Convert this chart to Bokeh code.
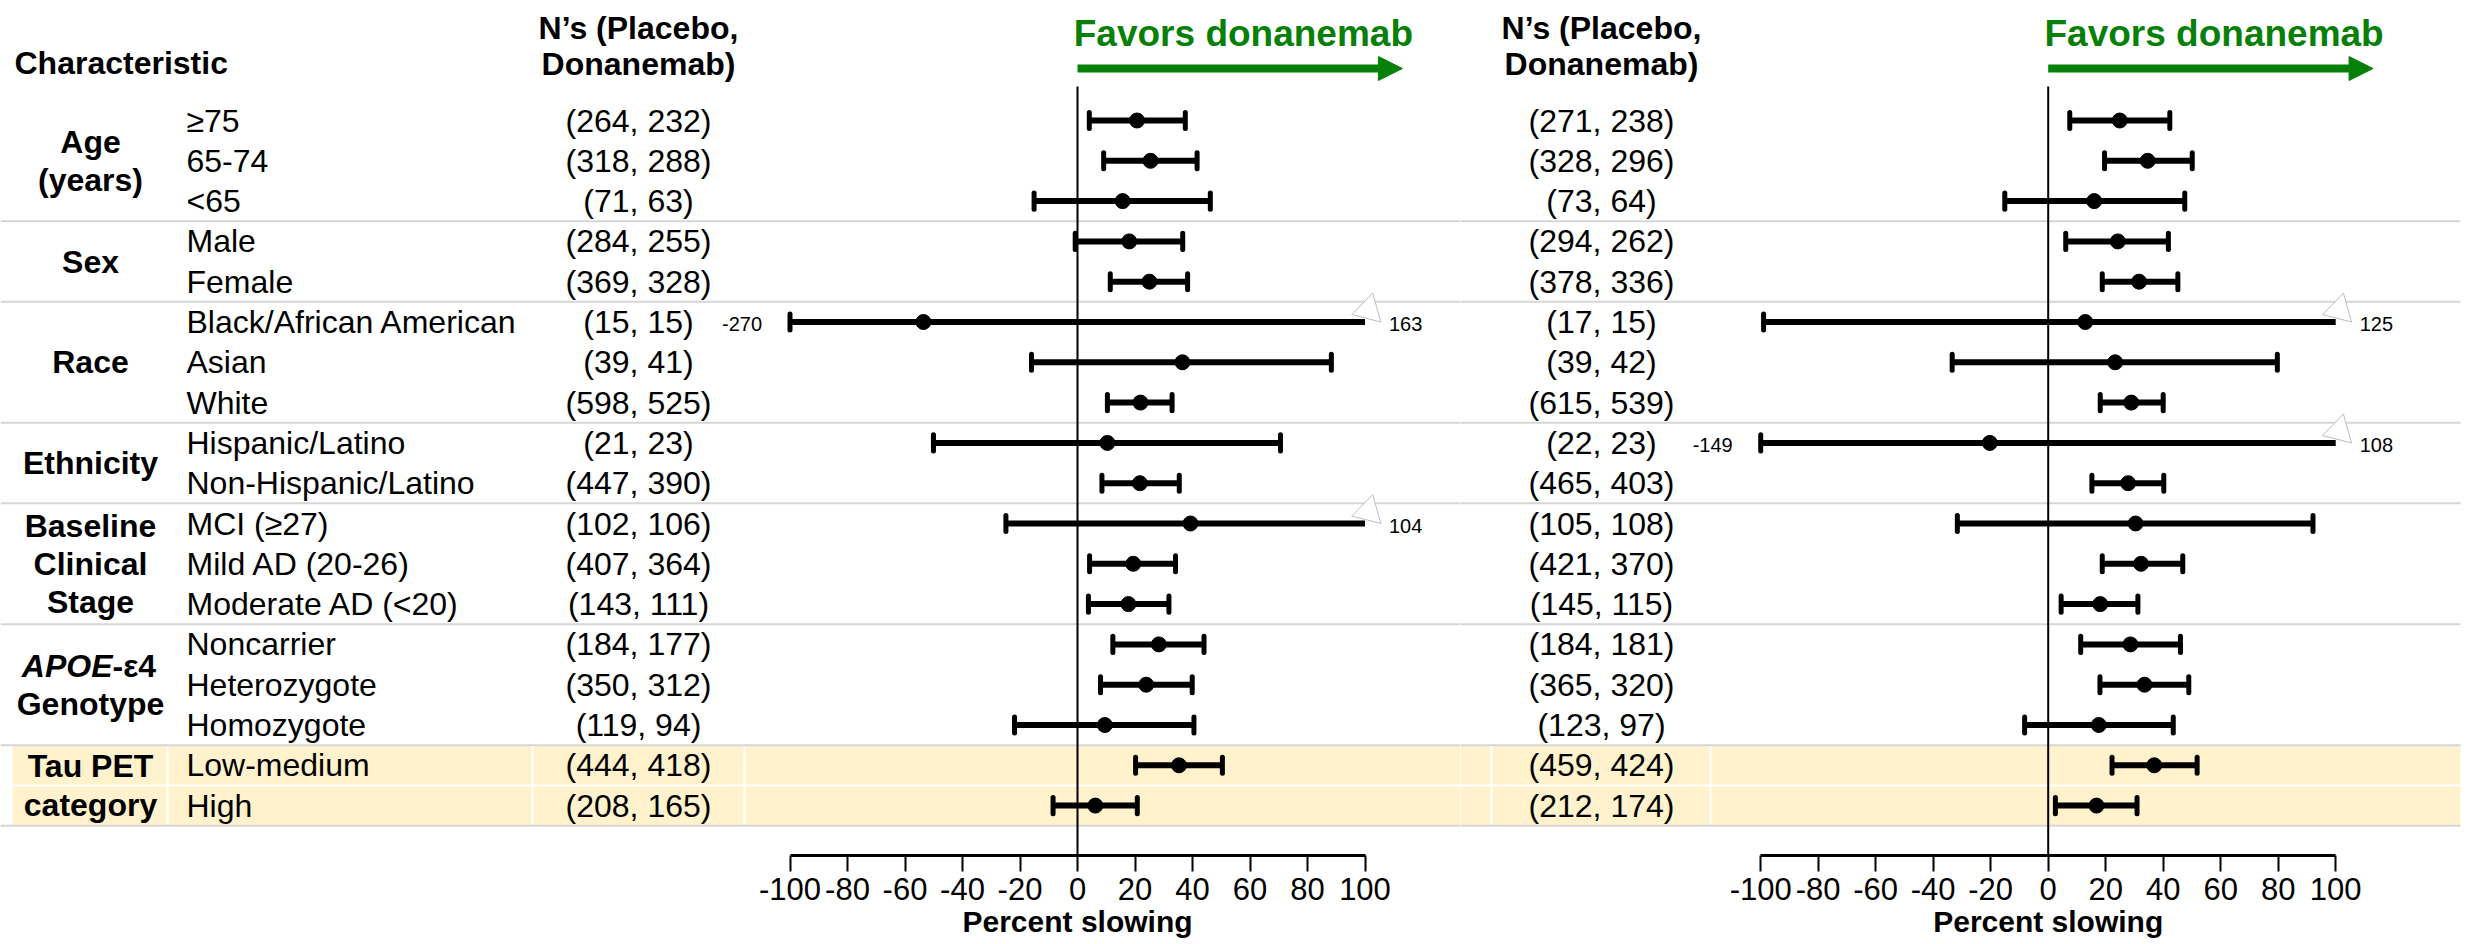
import numpy as np
from bokeh.plotting import figure
from bokeh.models import Range1d, LinearAxis, FixedTicker, Arrow, NormalHead, Title
from bokeh.layouts import row
from bokeh.core.properties import value
from bokeh.embed import file_html
from bokeh.resources import INLINE

# ---------------- data ----------------
group_lines = [["Age", "(years)"], ["Sex"], ["Race"], ["Ethnicity"],
               ["Baseline", "Clinical", "Stage"], ["APOE-ε4", "Genotype"],
               ["Tau PET", "category"]]
group_sizes = [3, 2, 3, 2, 3, 3, 2]

subgroups = ["≥75", "65-74", "<65", "Male", "Female",
             "Black/African American", "Asian", "White",
             "Hispanic/Latino", "Non-Hispanic/Latino",
             "MCI (≥27)", "Mild AD (20-26)", "Moderate AD (<20)",
             "Noncarrier", "Heterozygote", "Homozygote",
             "Low-medium", "High"]

n_left = ["(264, 232)", "(318, 288)", "(71, 63)", "(284, 255)", "(369, 328)",
          "(15, 15)", "(39, 41)", "(598, 525)", "(21, 23)", "(447, 390)",
          "(102, 106)", "(407, 364)", "(143, 111)", "(184, 177)", "(350, 312)",
          "(119, 94)", "(444, 418)", "(208, 165)"]
n_right = ["(271, 238)", "(328, 296)", "(73, 64)", "(294, 262)", "(378, 336)",
           "(17, 15)", "(39, 42)", "(615, 539)", "(22, 23)", "(465, 403)",
           "(105, 108)", "(421, 370)", "(145, 115)", "(184, 181)", "(365, 320)",
           "(123, 97)", "(459, 424)", "(212, 174)"]

# percent slowing: estimate, lower and upper confidence limits
est_left = [20.7, 25.4, 15.7, 18.0, 25.0, -53.6, 36.5, 21.9, 10.4, 21.7,
            39.3, 19.4, 17.7, 28.3, 23.9, 9.5, 35.3, 6.2]
lo_left = [4.1, 9.1, -15.1, -0.8, 11.4, -270, -16.0, 10.4, -50.1, 8.5,
           -24.9, 4.2, 3.8, 12.3, 8.0, -21.9, 20.2, -8.5]
hi_left = [37.5, 41.6, 46.2, 36.6, 38.3, 163, 88.3, 32.9, 70.6, 35.4,
           104, 34.1, 31.8, 44.0, 39.9, 40.5, 50.4, 20.8]

est_right = [24.9, 34.6, 16.0, 24.2, 31.6, 12.9, 23.3, 28.9, -20.3, 27.8,
             30.4, 32.3, 18.1, 28.6, 33.5, 17.6, 36.9, 16.8]
lo_right = [7.5, 19.6, -15.1, 6.1, 18.8, -99, -33.4, 18.1, -149, 15.2,
            -31.6, 18.8, 4.5, 11.3, 18.0, -8.2, 22.2, 2.5]
hi_right = [42.3, 50.1, 47.5, 41.8, 45.1, 125, 79.7, 40.0, 108, 40.2,
            92.1, 46.8, 31.2, 46.0, 48.9, 43.5, 51.8, 30.9]

x_ticks = [-100, -80, -60, -40, -20, 0, 20, 40, 60, 80, 100]
axis_limit = 100

# ---------------- styling / layout constants ----------------
FONT = "Liberation Sans"
GREEN = "#078007"
BEIGE = "#FFF2CC"
SEP = "#d6d6d6"
W_TOTAL = 2478
SPLIT = 1460              # left figure | right figure
H = 944
AXIS_H = 89               # space under the plotting frame for the axis
FRAME_H = H - AXIS_H
ROW_TOP_PX = 120.0
ROW_STEP_PX = 40.3
PX_PER_PCT = 2.875
TXT = "32px"
HDR = "32px"
XLABEL_HALF_W = 115       # half the width of the bold axis caption


def row_of(px):
    return (px - ROW_TOP_PX) / ROW_STEP_PX


Y_TOP = row_of(0)
Y_BOT = row_of(FRAME_H)
rows = np.arange(len(subgroups), dtype=float)
bounds = np.cumsum(group_sizes) - 0.5
group_start = np.concatenate([[0], np.cumsum(group_sizes)[:-1]])
group_center = group_start + (np.array(group_sizes) - 1) / 2.0


def make_panel(x0, x1, zero_px, est, lo, hi, n_text, n_center, band_dividers):
    p = figure(width=x1 - x0, height=H, x_range=Range1d(x0, x1),
               y_range=Range1d(Y_BOT, Y_TOP), x_axis_type=None, y_axis_type=None,
               toolbar_location=None, output_backend="svg",
               min_border_left=0, min_border_right=0, min_border_top=0,
               min_border_bottom=AXIS_H, outline_line_color=None,
               background_fill_color="white", border_fill_color="white")
    p.extra_x_ranges = {"pct": Range1d(-(zero_px - x0) / PX_PER_PCT,
                                       (x1 - zero_px) / PX_PER_PCT)}

    # highlighted Tau PET band
    tau0, tau1 = bounds[-2], bounds[-1]
    p.quad(left=max(x0, 12), right=min(x1, 2460), bottom=tau1, top=tau0,
           fill_color=BEIGE, line_color=None)
    p.segment(x0=band_dividers, x1=band_dividers,
              y0=[tau0] * len(band_dividers), y1=[tau1] * len(band_dividers),
              line_color="white", line_width=2)
    p.segment(x0=[max(x0, 12)], x1=[min(x1, 2460)], y0=[tau0 + 1], y1=[tau0 + 1],
              line_color="white", line_width=2)

    # group separators
    p.segment(x0=[max(x0, 0)] * len(bounds), x1=[min(x1, 2460)] * len(bounds),
              y0=bounds, y1=bounds, line_color=SEP, line_width=2)

    # zero reference line
    p.segment(x0=[0], x1=[0], y0=[row_of(86)], y1=[Y_BOT + 1],
              line_color="black", line_width=2, x_range_name="pct")

    lo = np.array(lo, dtype=float)
    hi = np.array(hi, dtype=float)
    lo_c = np.clip(lo, -axis_limit, axis_limit)
    hi_c = np.clip(hi, -axis_limit, axis_limit)
    cap = 0.2
    p.segment(x0=lo_c, x1=hi_c, y0=rows, y1=rows, line_color="black",
              line_width=6, x_range_name="pct")
    p.segment(x0=lo_c, x1=lo_c, y0=rows - cap, y1=rows + cap, line_color="black",
              line_width=5, line_cap="round", x_range_name="pct")
    keep = hi <= axis_limit
    p.segment(x0=hi_c[keep], x1=hi_c[keep], y0=rows[keep] - cap, y1=rows[keep] + cap,
              line_color="black", line_width=5, line_cap="round", x_range_name="pct")
    p.scatter(x=est, y=rows, size=15, color="black", x_range_name="pct")

    # out-of-range limits: open marker and value
    over = hi > axis_limit
    p.scatter(x=hi_c[over] + 1.2, y=rows[over] - 0.3, marker="triangle", size=30,
              angle=-0.25, fill_color="white", line_color="#bdbdbd", line_width=1,
              x_range_name="pct")
    p.text(x=hi_c[over], y=rows[over], text=[f"{v:.0f}" for v in hi[over]],
           x_offset=24, y_offset=2, text_font=value(FONT), text_font_size="20px",
           text_align="left", text_baseline="middle", x_range_name="pct")
    under = lo < -axis_limit
    p.text(x=lo_c[under], y=rows[under], text=[f"{v:.0f}" for v in lo[under]],
           x_offset=-28, y_offset=2, text_font=value(FONT), text_font_size="20px",
           text_align="right", text_baseline="middle", x_range_name="pct")

    # favours arrow
    p.add_layout(Arrow(end=NormalHead(size=24, fill_color=GREEN, line_color=GREEN),
                       x_start=0, y_start=row_of(68), x_end=113, y_end=row_of(68),
                       line_color=GREEN, line_width=8, x_range_name="pct"))
    p.text(x=[57.7], y=[row_of(33)], text=["Favors donanemab"], text_font=value(FONT),
           text_font_style="bold", text_font_size="37px", text_color=GREEN,
           text_align="center", text_baseline="middle", x_range_name="pct")

    # N's column
    p.text(x=[n_center, n_center], y=[row_of(27), row_of(63)],
           text=["N’s (Placebo,", "Donanemab)"], text_font=value(FONT),
           text_font_style="bold", text_font_size=HDR, text_align="center",
           text_baseline="middle")
    p.text(x=[n_center] * len(n_text), y=rows, text=n_text, text_font=value(FONT),
           text_font_size=TXT, text_align="center", text_baseline="middle")

    ax = LinearAxis(x_range_name="pct", bounds=(-axis_limit, axis_limit),
                    ticker=FixedTicker(ticks=x_ticks, minor_ticks=[]))
    ax.major_label_overrides = {t: str(t) for t in x_ticks}
    ax.major_tick_out = 16
    ax.major_tick_in = 0
    ax.minor_tick_out = 0
    ax.minor_tick_in = 0
    ax.axis_line_width = 3
    ax.major_tick_line_width = 2
    ax.major_label_standoff = 6
    ax.major_label_text_font = FONT
    ax.major_label_text_font_size = "31px"
    ax.major_label_text_color = "black"
    p.add_layout(ax, "below")

    # axis caption, centred under the zero line
    p.add_layout(Title(text="Percent slowing", align="left",
                       offset=zero_px - x0 - XLABEL_HALF_W, standoff=0,
                       text_font=FONT, text_font_style="bold", text_font_size="30px",
                       text_color="black"), "below")
    return p


left = make_panel(0, SPLIT, 1077.0, est_left, lo_left, hi_left, n_left, 638,
                  [167, 532, 744])
right = make_panel(SPLIT, W_TOTAL, 2047.7, est_right, lo_right, hi_right, n_right,
                   1601, [1491, 1710])

# characteristic column (left figure only)
left.text(x=[14], y=[row_of(62)], text=["Characteristic"], text_font=value(FONT),
          text_font_style="bold", text_font_size=HDR, text_align="left",
          text_baseline="middle")
left.text(x=[186] * len(subgroups), y=rows, text=subgroups, text_font=value(FONT),
          text_font_size=TXT, text_align="left", text_baseline="middle")

LINE_STEP = 0.95
gx, gy, gt = [], [], []
for lines, c in zip(group_lines, group_center):
    for k, line in enumerate(lines):
        y = c + (k - (len(lines) - 1) / 2.0) * LINE_STEP
        if line.startswith("APOE"):
            left.text(x=[112], y=[y], text=["APOE"], text_font=value(FONT),
                      text_font_style="bold italic", text_font_size=HDR,
                      text_align="right", text_baseline="middle")
            left.text(x=[112], y=[y], text=[line[len("APOE"):]], text_font=value(FONT),
                      text_font_style="bold", text_font_size=HDR,
                      text_align="left", text_baseline="middle")
        else:
            gx.append(90)
            gy.append(y)
            gt.append(line)
left.text(x=gx, y=gy, text=gt, text_font=value(FONT), text_font_style="bold",
          text_font_size=HDR, text_align="center", text_baseline="middle")

layout = row(left, right)
open("out.html", "w").write(file_html(layout, INLINE))
